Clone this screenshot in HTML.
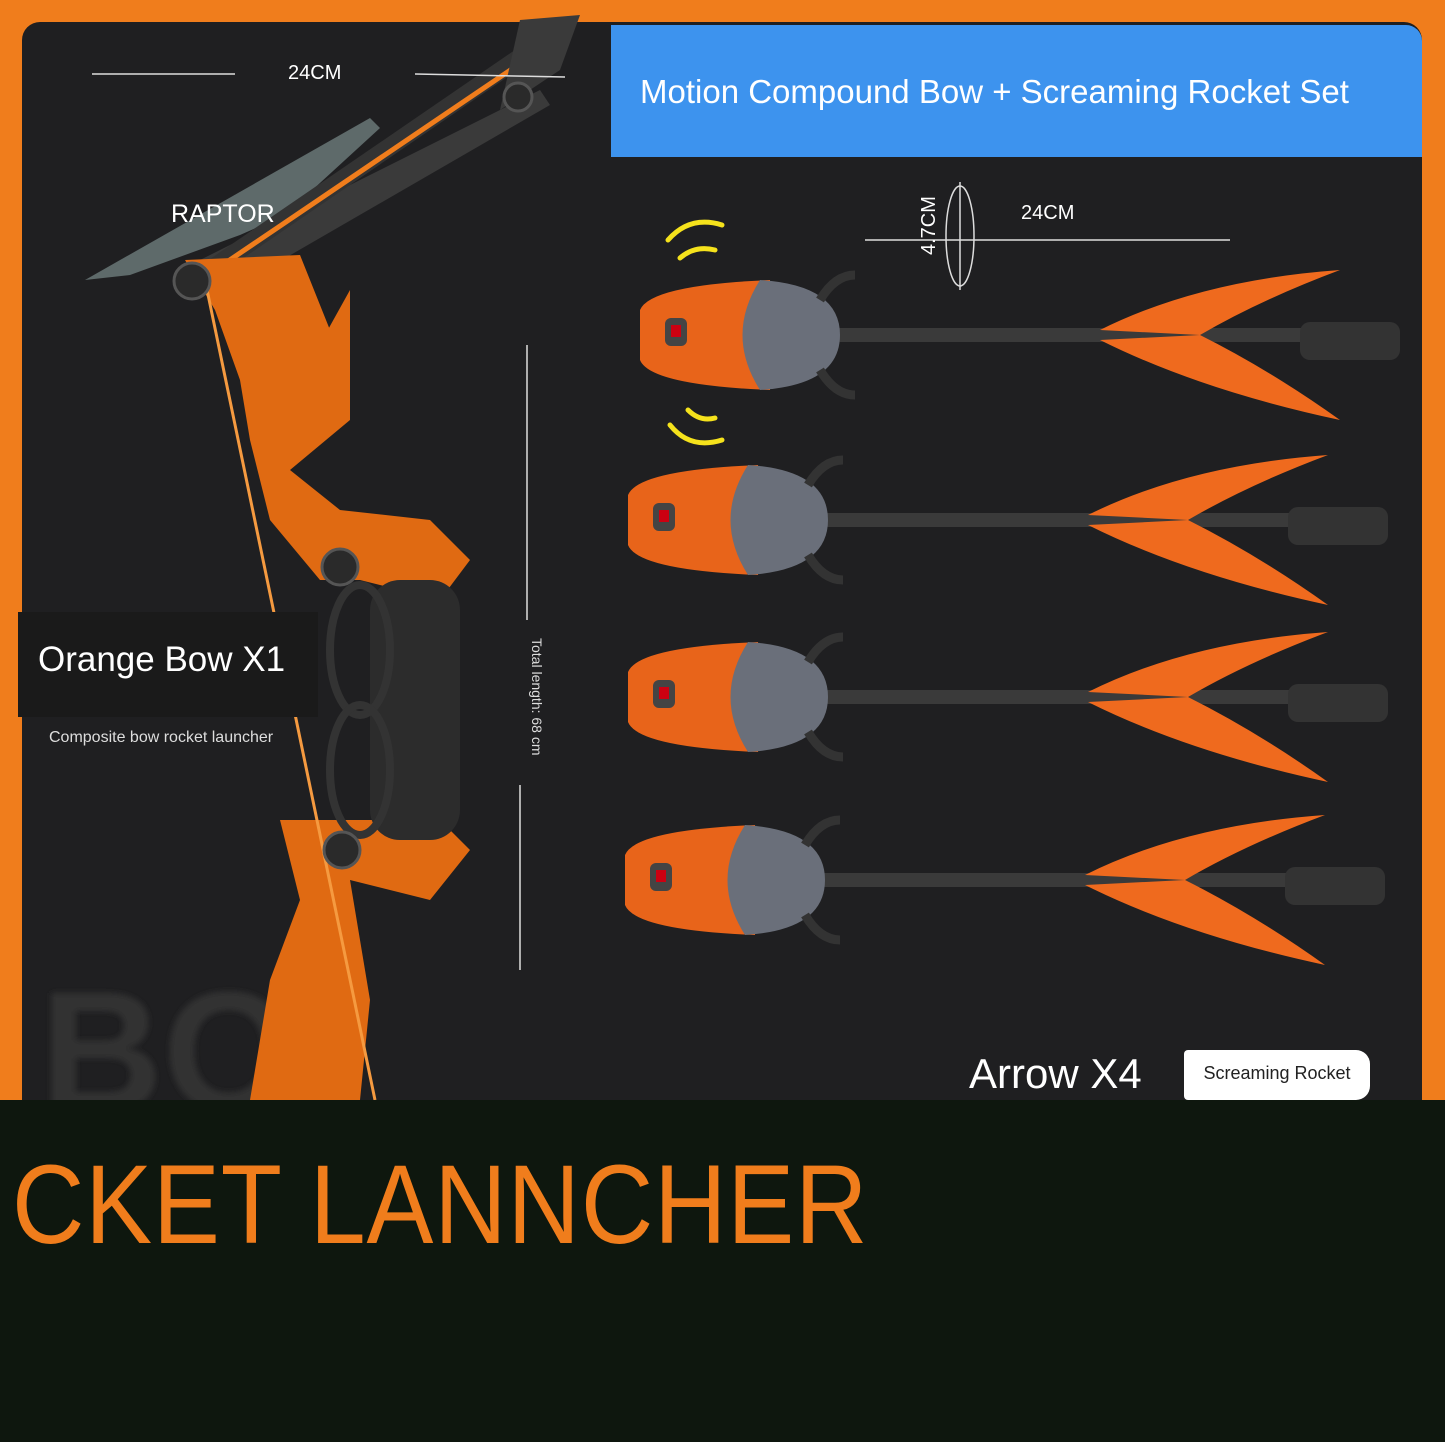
<!DOCTYPE html>
<html><head><meta charset="utf-8">
<style>
html,body{margin:0;padding:0}
body{width:1445px;height:1442px;background:#f07d1c;position:relative;overflow:hidden;font-family:"Liberation Sans",sans-serif}
.panel{position:absolute;left:22px;top:22px;width:1400px;height:1100px;background:#1f1f21;border-radius:18px}
.hdr{position:absolute;left:611px;top:25px;width:811px;height:132px;background:#3d93ee;border-top-right-radius:16px}
.hdr span{position:absolute;left:29px;top:48px;color:#fff;font-size:33px}
.bottom{position:absolute;left:0;top:1100px;width:1445px;height:342px;background:#0e170e}
.big{position:absolute;left:12px;top:1140px;color:#f07d1c;font-size:112px;letter-spacing:1px;transform:scaleX(0.895);transform-origin:left top;white-space:nowrap}
.t{position:absolute;color:#fff}
</style></head><body>
<div class="panel"></div>
<div class="hdr"><span>Motion Compound Bow + Screaming Rocket Set</span></div>
<svg width="1445" height="1100" style="position:absolute;left:0;top:0">
 <defs><filter id="bl"><feGaussianBlur stdDeviation="3"/></filter></defs>
 <text x="40" y="1110" font-family="Liberation Sans" font-weight="bold" font-size="170" fill="#333" filter="url(#bl)">BO</text>
 <polygon points="85,280 370,118 380,128 285,215 240,235 130,275" fill="#5e6a6a"/>
 <polygon points="200,260 540,90 550,105 230,290" fill="#3a3a3a"/>
 <line x1="210" y1="270" x2="560" y2="30" stroke="#333" stroke-width="18"/>
 <line x1="215" y1="270" x2="540" y2="50" stroke="#f07d1c" stroke-width="5"/>
 <polygon points="520,20 580,15 560,70 500,110" fill="#3a3a3a"/>
 <polygon points="185,260 300,255 330,330 300,380 350,290 350,420 290,470 340,510 430,520 470,560 440,600 360,580 320,580 270,520 250,440 240,380 215,310" fill="#e06a12"/>
 <polygon points="280,820 440,820 470,850 430,900 350,880 370,1000 360,1100 250,1100 270,980 300,900" fill="#e06a12"/>
 <rect x="370" y="580" width="90" height="260" rx="30" fill="#2c2c2c"/>
 <ellipse cx="360" cy="650" rx="30" ry="65" fill="none" stroke="#333" stroke-width="8"/>
 <ellipse cx="360" cy="770" rx="30" ry="65" fill="none" stroke="#333" stroke-width="8"/>
 <line x1="205" y1="280" x2="375" y2="1100" stroke="#f59a40" stroke-width="3"/>
 <g fill="#2a2a2a" stroke="#555" stroke-width="3">
  <circle cx="518" cy="97" r="14"/><circle cx="192" cy="281" r="18"/><circle cx="340" cy="567" r="18"/><circle cx="342" cy="850" r="18"/>
 </g>
 <g stroke="#ddd" stroke-width="1.5">
  <line x1="92" y1="74" x2="235" y2="74"/><line x1="415" y1="74" x2="565" y2="77"/>
  <line x1="527" y1="345" x2="527" y2="620"/><line x1="520" y1="785" x2="520" y2="970"/>
  <line x1="865" y1="240" x2="1230" y2="240"/><line x1="960" y1="182" x2="960" y2="290"/>
 </g>
 <ellipse cx="960" cy="236" rx="14" ry="50" fill="none" stroke="#ddd" stroke-width="1.5"/>
 <g fill="none" stroke="#f5e21c" stroke-width="5" stroke-linecap="round">
  <path d="M668,240 Q690,215 722,225"/><path d="M680,258 Q695,245 715,250"/>
  <path d="M670,425 Q690,450 722,440"/><path d="M688,410 Q700,422 715,418"/>
 </g>
 <g id="a">
  <line x1="820" y1="335" x2="1310" y2="335" stroke="#3a3a3a" stroke-width="14"/>
  <path d="M1100,330 Q1200,280 1340,270 Q1260,300 1200,335 Z" fill="#ef6a1e"/>
  <path d="M1100,340 Q1200,390 1340,420 Q1270,370 1200,335 Z" fill="#ef6a1e"/>
  <rect x="1300" y="322" width="100" height="38" rx="10" fill="#333"/>
  <path d="M640,310 Q650,285 770,280 L770,390 Q650,385 640,360 Z" fill="#e8641a"/>
  <rect x="665" y="318" width="22" height="28" rx="6" fill="#444"/><rect x="671" y="325" width="10" height="12" fill="#c01"/>
  <path d="M760,280 Q840,285 840,335 Q840,385 760,390 Q725,335 760,280 Z" fill="#6a6f7a"/>
  <path d="M820,300 Q835,275 855,275 M820,370 Q835,395 855,395" stroke="#333" stroke-width="9" fill="none"/>
 </g>
 <use href="#a" transform="translate(-12,185)"/>
 <use href="#a" transform="translate(-12,362)"/>
 <use href="#a" transform="translate(-15,545)"/>
</svg>
<div class="t" style="left:288px;top:62px;font-size:20px">24CM</div>
<div class="t" style="left:171px;top:200px;font-size:25px">RAPTOR</div>
<div class="t" style="left:1021px;top:202px;font-size:20px">24CM</div>
<div class="t" style="left:918px;top:255px;font-size:20px;transform:rotate(-90deg);transform-origin:left top">4.7CM</div>
<div style="position:absolute;left:18px;top:612px;width:300px;height:105px;background:#1a1a1a"></div>
<div class="t" style="left:38px;top:640px;font-size:35px">Orange Bow X1</div>
<div class="t" style="left:49px;top:729px;font-size:16px;color:#ddd">Composite bow rocket launcher</div>
<div class="t" style="left:545px;top:638px;font-size:14px;color:#ddd;transform:rotate(90deg);transform-origin:left top">Total length: 68 cm</div>
<div class="bottom"></div>
<div class="t" style="left:969px;top:1050px;font-size:42px">Arrow X4</div>
<div style="position:absolute;left:1184px;top:1050px;width:186px;height:50px;background:#fff;border-radius:4px 14px 14px 4px;font-size:18px;line-height:46px;text-align:center;color:#222">Screaming Rocket</div>
<div class="big">CKET LANNCHER</div>
</body></html>
